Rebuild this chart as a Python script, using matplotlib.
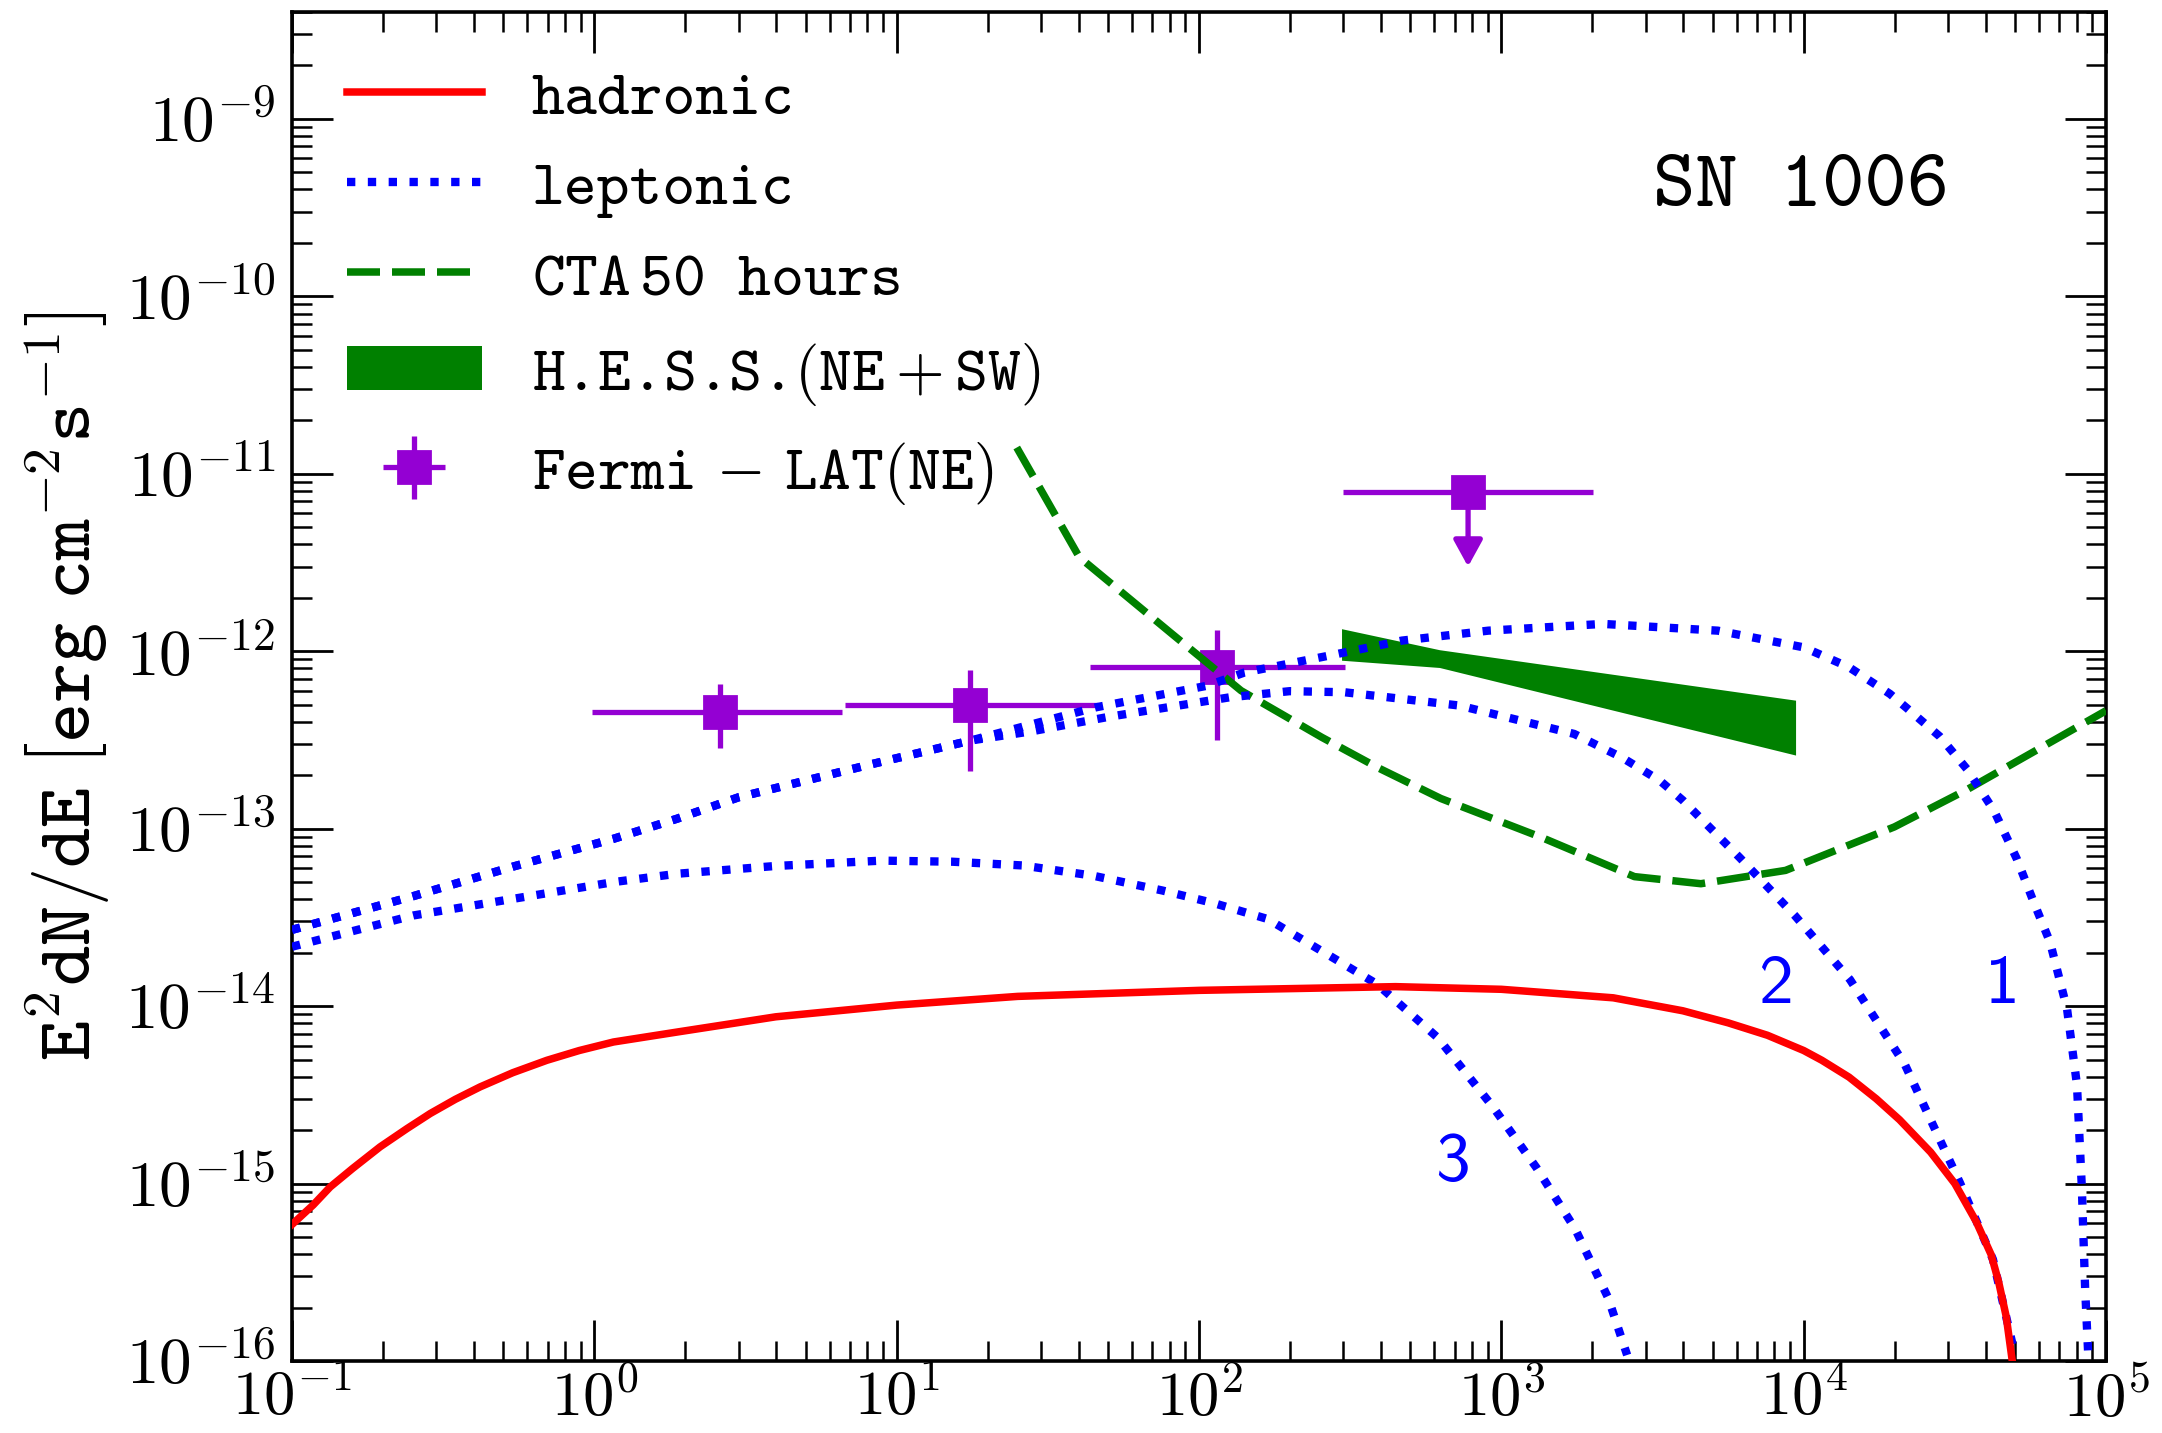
import matplotlib
matplotlib.use("Agg")
import numpy as np
import matplotlib.pyplot as plt
from matplotlib.lines import Line2D
from matplotlib.patches import Patch
from matplotlib.ticker import LogLocator, NullFormatter, FuncFormatter

plt.rcParams["mathtext.fontset"] = "cm"
plt.rcParams["font.family"] = ["cmtt10", "DejaVu Sans"]
plt.rcParams["axes.unicode_minus"] = False

# ---- model curves: log10(E/GeV) and log10(E^2 dN/dE / erg cm^-2 s^-1) ----
hadronic_logE = [-1.0, -0.93, -0.874, -0.8, -0.709, -0.62, -0.543, -0.46, -0.378, -0.27, -0.157,
                 -0.05, 0.063, 0.273, 0.6, 1.0, 1.4, 2.0, 2.65, 3.0, 3.37, 3.6, 3.75, 3.88, 4.0,
                 4.06, 4.15, 4.24, 4.317, 4.42, 4.50, 4.57, 4.62, 4.645, 4.67, 4.69]
hadronic_logF = [-15.23, -15.12, -15.019, -14.915, -14.793, -14.69, -14.605, -14.525, -14.455,
                 -14.375, -14.305, -14.25, -14.202, -14.146, -14.06, -13.994, -13.945, -13.911,
                 -13.89, -13.905, -13.953, -14.026, -14.094, -14.164, -14.25, -14.305, -14.40,
                 -14.522, -14.64, -14.823, -15.0, -15.212, -15.40, -15.555, -15.75, -16.0]

lep1_logE = [-1.0, -0.599, -0.268, 0.063, 0.273, 0.477, 0.92, 1.245, 1.659, 2.028, 2.15, 2.444,
             2.671, 2.957, 3.336, 3.716, 4.0, 4.15, 4.285, 4.341, 4.45, 4.54, 4.63, 4.705, 4.76,
             4.815, 4.871, 4.904, 4.92, 4.931, 4.942]
lep1_logF = [-13.57, -13.38, -13.213, -13.057, -12.944, -12.823, -12.635, -12.503, -12.316, -12.194,
             -12.12, -12.02, -11.94, -11.884, -11.846, -11.884, -11.978, -12.09, -12.24, -12.32,
             -12.48, -12.664, -12.9, -13.17, -13.41, -13.64, -14.014, -14.444, -15.019, -15.593,
             -15.994]

lep2_logE = [-1.0, -0.599, -0.268, 0.063, 0.273, 0.477, 0.92, 1.245, 1.45, 1.70, 2.10, 2.30,
             2.481, 2.861, 3.241, 3.4, 3.525, 3.60, 3.789, 3.971, 4.153, 4.335, 4.517, 4.626, 4.699]
lep2_logF = [-13.57, -13.38, -13.213, -13.057, -12.944, -12.823, -12.635, -12.503, -12.45, -12.37,
             -12.26, -12.225, -12.231, -12.306, -12.466, -12.6, -12.73, -12.84, -13.164, -13.49,
             -13.85, -14.33, -14.996, -15.427, -15.966]

lep3_logE = [-1.0, -0.599, -0.268, 0.063, 0.273, 0.6, 0.95, 1.183, 1.415, 1.65, 1.878, 2.05,
             2.227, 2.334, 2.436, 2.589, 2.789, 2.971, 3.116, 3.244, 3.353, 3.416]
lep3_logF = [-13.665, -13.489, -13.395, -13.301, -13.254, -13.21, -13.18, -13.186, -13.207, -13.265,
             -13.348, -13.42, -13.509, -13.617, -13.72, -13.876, -14.177, -14.565, -14.91, -15.255,
             -15.643, -15.966]

# CTA 50 h differential sensitivity
cta_logE = [1.397, 1.604, 1.911, 2.139, 2.406, 2.596, 2.80, 3.134, 3.44, 3.66, 3.94, 4.30, 4.54, 5.0]
cta_logF = [-10.852, -11.47, -11.903, -12.222, -12.485, -12.66, -12.83, -13.05, -13.27, -13.31,
            -13.235, -12.99, -12.78, -12.335]

# H.E.S.S. (NE + SW) butterfly
hess_E = [296.0, 624.0, 9400.0]
hess_lo = [8.9e-13, 8.1e-13, 2.6e-13]
hess_hi = [1.34e-12, 1.02e-12, 5.3e-13]

# Fermi-LAT (NE) fluxes
fermi_E = [2.6, 17.5, 115.0]
fermi_Elo = [0.98, 6.75, 43.5]
fermi_Ehi = [6.6, 46.3, 304.0]
fermi_F = [4.57e-13, 5.0e-13, 8.2e-13]
fermi_Flo = [2.84e-13, 2.11e-13, 3.17e-13]
fermi_Fhi = [6.55e-13, 7.87e-13, 1.32e-12]

# Fermi-LAT (NE) upper limit
ul_E = 776.0
ul_Elo = 299.0
ul_Ehi = 2005.0
ul_F = 7.9e-12
ul_arrow_end = 3.0e-12

curve_tags = ["1", "2", "3"]
curve_tag_logE = [4.657, 3.906, 2.837]
curve_tag_logF = [-13.883, -13.883, -14.880]

RED = "#ff0000"
BLUE = "#0000ff"
GREEN = "#008000"
PURPLE = "#9400d3"
LW = 2.7
DOT_LW = 3.0
DOT = (0, (1.0, 1.5))
DASH = (0, (4.4, 1.6))


def pw(v):
    return 10.0 ** np.asarray(v)


def decade_label(val, pos):
    return r"$10^{%d}$" % int(round(np.log10(val)))


fig = plt.figure(figsize=(10.81, 7.165), dpi=200)
ax = fig.add_axes([0.1351, 0.0502, 0.839, 0.9414])
ax.set_xscale("log")
ax.set_yscale("log")

ax.fill_between(hess_E, hess_lo, hess_hi, color=GREEN, lw=0, zorder=2)

E = np.array(fermi_E)
F = np.array(fermi_F)
fermi = ax.errorbar(E, F,
                    xerr=[E - np.array(fermi_Elo), np.array(fermi_Ehi) - E],
                    yerr=[F - np.array(fermi_Flo), np.array(fermi_Fhi) - F],
                    fmt="s", color=PURPLE, ms=11.5, elinewidth=1.9, capsize=0, zorder=3)
ax.errorbar([ul_E], [ul_F], xerr=[[ul_E - ul_Elo], [ul_Ehi - ul_E]],
            fmt="s", color=PURPLE, ms=11.5, elinewidth=1.9, capsize=0, zorder=3)
ax.annotate("", xy=(ul_E, ul_arrow_end), xytext=(ul_E, ul_F),
            arrowprops=dict(arrowstyle="-|>,head_length=0.4,head_width=0.22",
                            mutation_scale=20, color=PURPLE, lw=1.9,
                            shrinkA=0, shrinkB=0), zorder=3)

ax.plot(pw(cta_logE), pw(cta_logF), color=GREEN, lw=LW, ls=DASH, zorder=4)
for lx, ly in ((lep1_logE, lep1_logF), (lep2_logE, lep2_logF), (lep3_logE, lep3_logF)):
    ax.plot(pw(lx), pw(ly), color=BLUE, lw=DOT_LW, ls=DOT, zorder=5)
ax.plot(pw(hadronic_logE), pw(hadronic_logF), color=RED, lw=LW, zorder=6,
        solid_joinstyle="round")

for t, lx, ly in zip(curve_tags, curve_tag_logE, curve_tag_logF):
    ax.text(10 ** lx, 10 ** ly, t, color=BLUE, fontsize=25, family="cmss10",
            ha="center", va="center")

ax.text(0.832, 0.868, "SN 1006", transform=ax.transAxes, fontsize=29,
        family="cmtt10", ha="center", va="center")

ax.set_xlim(1e-1, 1e5)
ax.set_ylim(1e-16, 4e-9)

ax.tick_params(which="both", direction="in", top=True, right=True)
ax.tick_params(which="major", length=14.8, width=1.0)
ax.tick_params(which="minor", length=7.3, width=0.9)
ax.tick_params(axis="y", which="major", labelsize=23.5, pad=6)
ax.tick_params(axis="x", which="major", labelsize=22.5, pad=3.5)
for axis in (ax.xaxis, ax.yaxis):
    axis.set_major_locator(LogLocator(base=10, numticks=20))
    axis.set_minor_locator(LogLocator(base=10, subs=np.arange(2, 10), numticks=40))
    axis.set_major_formatter(FuncFormatter(decade_label))
    axis.set_minor_formatter(NullFormatter())
for s in ax.spines.values():
    s.set_linewidth(1.3)

ax.set_ylabel(r"$\mathtt{E^2dN/dE}\ \left[\mathtt{erg\ cm^{-2}s^{-1}}\right]$", fontsize=27.5)
ax.yaxis.set_label_coords(-0.100, 0.5)

handles = [
    Line2D([], [], color=RED, lw=LW),
    Line2D([], [], color=BLUE, lw=DOT_LW, ls=DOT),
    Line2D([], [], color=GREEN, lw=LW, ls=DASH),
    Patch(facecolor=GREEN, edgecolor="none"),
    fermi,
]
labels = [
    "hadronic",
    "leptonic",
    r"CTA$\,$50 hours",
    r"H.E.S.S.$(\mathtt{NE}+\mathtt{SW})$",
    r"Fermi$\,-\,$LAT$($NE$)$",
]
ax.legend(handles, labels, loc="upper left", bbox_to_anchor=(0.03, 0.957),
          frameon=False, prop=dict(family="cmtt10", size=22.5),
          handlelength=2.16, handletextpad=0.8,
          labelspacing=0.52, borderpad=0, borderaxespad=0)

fig.savefig("out.png", dpi=200)
